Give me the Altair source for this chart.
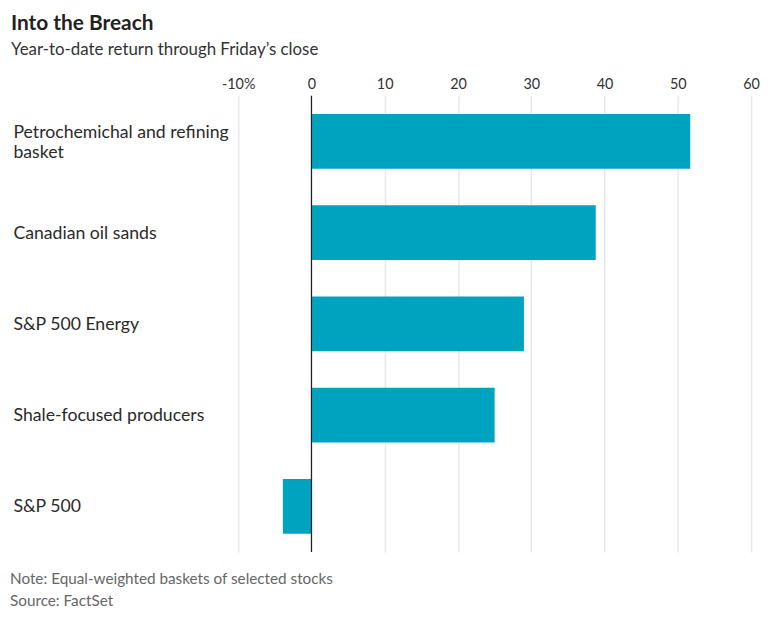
import altair as alt
import pandas as pd

categories = ["Petrochemichal and refining|basket", "Canadian oil sands", "S&P 500 Energy",
              "Shale-focused producers", "S&P 500"]
values = [51.7, 38.8, 29.0, 25.0, -3.9]
ticks = [-10, 0, 10, 20, 30, 40, 50, 60]
notes = ["Note: Equal-weighted baskets of selected stocks", "Source: FactSet"]

df = pd.DataFrame({"cat": categories, "val": values})
foot_df = pd.DataFrame({"t": notes, "i": [0, 1]})
FONT = "Lato"
W, H = 517, 460

bars = alt.Chart(df).mark_bar(color="#00a3bf").encode(
    x=alt.X("val:Q", scale=alt.Scale(domain=[-10, 60], nice=False),
            axis=alt.Axis(orient="top", values=ticks, title=None, domain=False, ticks=False,
                          tickSize=0, labelPadding=4, labelFontSize=14.5, labelColor="#333333",
                          labelFont=FONT, labelFlush=False, grid=True, gridColor="#e8e8e8",
                          gridWidth=1.5,
                          labelExpr="datum.value == -10 ? '-10%' : datum.label")),
    y=alt.Y("cat:N", sort=categories, scale=alt.Scale(paddingInner=0.4, paddingOuter=0.2),
            axis=alt.Axis(title=None, domain=False, ticks=False, tickSize=0, labelAlign="left",
                          labelPadding=227, labelFontSize=17.8, labelColor="#2a2a2a", labelFont=FONT,
                          labelLineHeight=20, labelLimit=300,
                          labelOffset={"condition": {"test": "indexof(datum.label, '|') >= 0",
                                                     "value": -8}, "value": 1},
                          labelExpr="split(datum.label, '|')")),
)

zero = alt.Chart(pd.DataFrame({"z": [0]})).mark_rule(color="#222222", strokeWidth=1.2).encode(x="z:Q")

footer = alt.Chart(foot_df).mark_text(align="left", baseline="alphabetic", fontSize=15.4,
                                      color="#666666", font=FONT).encode(
    text="t:N",
    x=alt.value(-230),
    y=alt.Y("i:Q", scale=alt.Scale(domain=[0, 1], range=[H + 32, H + 54]), axis=None),
)

chart = alt.layer(bars, zero, footer).resolve_scale(y="independent").properties(
    width=W, height=H,
    padding={"left": 2, "top": 3, "right": 0, "bottom": 0},
    title=alt.TitleParams(
        "Into the Breach",
        subtitle="Year-to-date return through Friday\u2019s close",
        anchor="start", frame="bounds", font=FONT, fontSize=21, fontWeight="bold",
        color="#222222", subtitleFont=FONT, subtitleFontSize=17, subtitleColor="#333333",
        subtitlePadding=8, offset=19, dx=1,
    ),
).configure_view(stroke=None)

chart.save("out.html", embed_options={"renderer": "svg", "actions": False})
